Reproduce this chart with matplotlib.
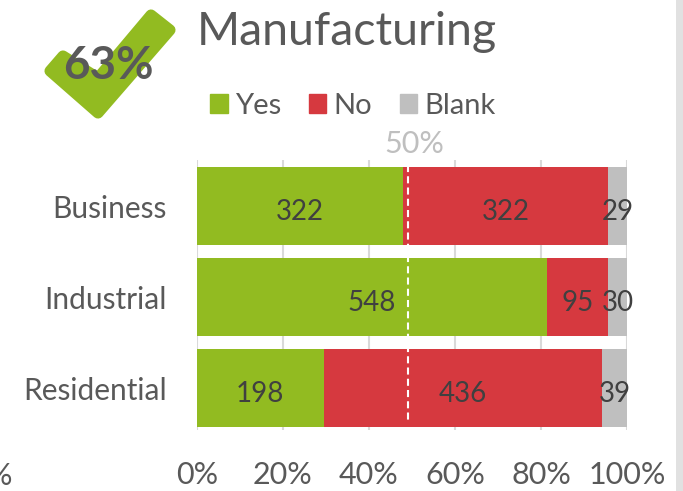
import matplotlib
matplotlib.use('Agg')
import matplotlib.pyplot as plt
from matplotlib.patches import Polygon, Rectangle

plt.rcParams['font.family'] = ['Lato', 'DejaVu Sans']

categories = ['Business', 'Industrial', 'Residential']
yes = [322, 548, 198]
no = [322, 95, 436]
blank = [29, 30, 39]
ticks = [0, 20, 40, 60, 80, 100]
marker_pos = 49

GREEN = '#92BB21'
RED = '#D6393F'
GREY = '#BFBFBF'
TEXT = '#595959'
W, H = 683, 491

fig = plt.figure(figsize=(W / 100, H / 100), dpi=100)
ax = fig.add_axes([197 / W, 1 - 430 / H, 430 / W, 270 / H])

# counts to percentages
totals = [a + b + c for a, b, c in zip(yes, no, blank)]
yes_p = [a / t * 100 for a, t in zip(yes, totals)]
no_p = [a / t * 100 for a, t in zip(no, totals)]
blank_p = [a / t * 100 for a, t in zip(blank, totals)]
pos = list(range(len(categories)))

left = [0] * 3
for vals, pct, col in [(yes, yes_p, GREEN), (no, no_p, RED), (blank, blank_p, GREY)]:
    ax.barh(pos, pct, left=left, height=0.857, color=col, zorder=2)
    for i in pos:
        ax.text(left[i] + pct[i] / 2, i + 0.06, str(vals[i]), ha='center', va='center',
                fontsize=20, color='#404040', zorder=4)
    left = [l + p for l, p in zip(left, pct)]

ax.set_xlim(0, 100)
ax.set_ylim(2.456, -0.505)
ax.set_yticks(pos)
ax.set_yticklabels(categories, fontsize=21.5, color=TEXT)
ax.set_xticks(ticks)
ax.set_xticklabels([f'{t}%' for t in ticks], fontsize=22, color=TEXT)
ax.tick_params(axis='y', length=0, pad=22)
ax.tick_params(axis='x', length=0, pad=22)
ax.grid(axis='x', color='#D9D9D9', linewidth=1.5, zorder=1)
for s in ax.spines.values():
    s.set_visible(False)

# 50% reference line
ax.plot([marker_pos, marker_pos], [-0.45, 2.35], color='white', linewidth=1.5,
        linestyle=(0, (3.4, 2)), zorder=3)
fig.text(414 / W, 1 - 144 / H, '50%', ha='center', va='center', fontsize=22, color=GREY)

fig.text(197 / W, 1 - 45 / H, 'Manufacturing', ha='left', va='baseline', fontsize=33.5, color=TEXT)

handles = [Rectangle((0, 0), 1, 1, color=c) for c in (GREEN, RED, GREY)]
fig.legend(handles, ['Yes', 'No', 'Blank'], loc='center', bbox_to_anchor=(353 / W, 1 - 106 / H),
           ncols=3, frameon=False, fontsize=21, labelcolor=TEXT, handlelength=0.6,
           handleheight=0.6, handletextpad=0.25, columnspacing=0.95)

# check mark badge, figure pixels
bg = fig.add_axes([0, 0, 1, 1], zorder=5)
bg.set_xlim(0, W)
bg.set_ylim(H, 0)
bg.axis('off')
check = [(151, 15), (170, 30), (98, 113), (50, 71), (63, 56), (98, 78)]
bg.add_patch(Polygon(check, closed=True, facecolor=GREEN, edgecolor=GREEN, linewidth=8, joinstyle='round'))
bg.text(108, 66, '63%', ha='center', va='center', fontsize=33, fontweight='bold', color=TEXT)
bg.add_patch(Rectangle((676, 0), 7, H, facecolor='#E1E1E1', edgecolor='none'))
bg.text(12, 476, '%', ha='right', va='center', fontsize=22, color=TEXT)

fig.savefig('out.png', dpi=100)
